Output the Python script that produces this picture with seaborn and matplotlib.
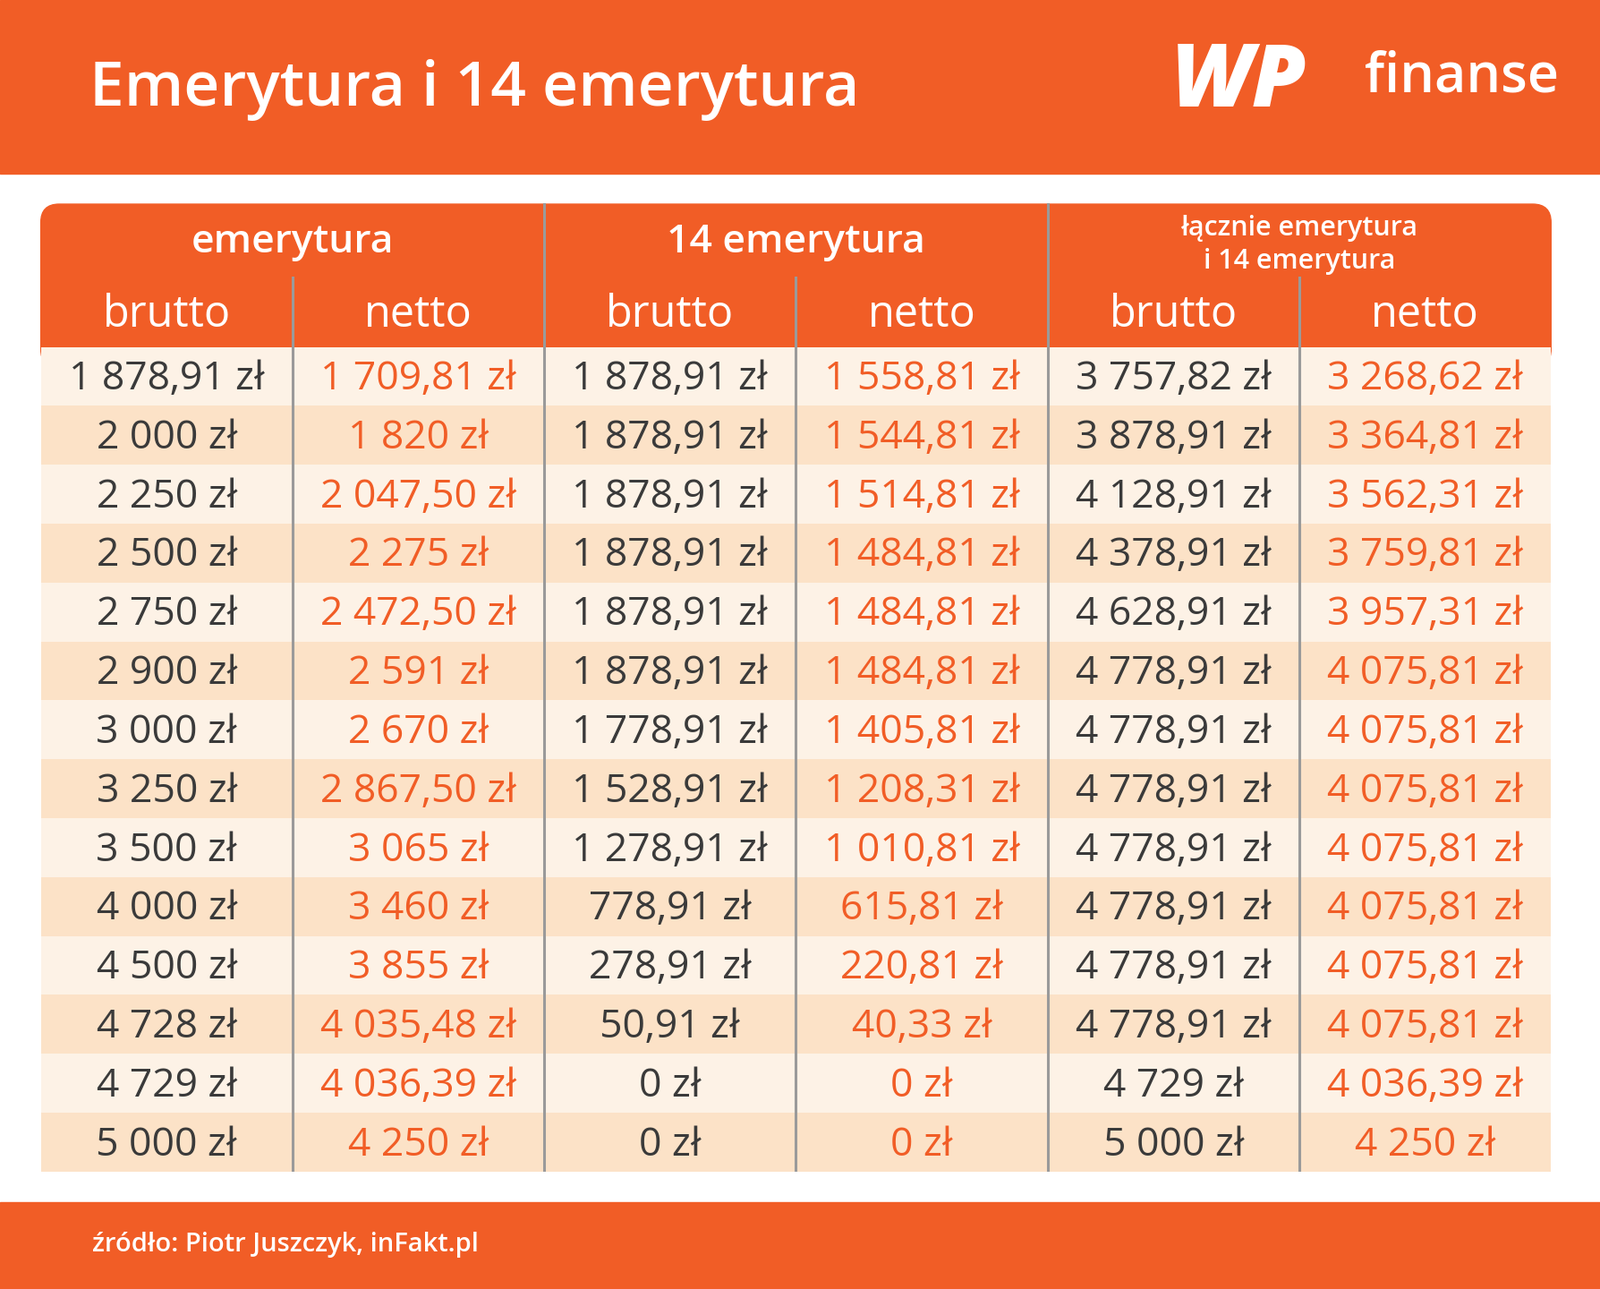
import numpy as np
import pandas as pd
import seaborn as sns
import matplotlib.pyplot as plt
from matplotlib.patches import FancyBboxPatch, Rectangle

ORANGE = "#F15D26"
DARK = "#3a3a3a"

title = "Emerytura i 14 emerytura"
source = "źródło: Piotr Juszczyk, inFakt.pl"
groups = ["emerytura", "14 emerytura", "łącznie emerytura\ni 14 emerytura"]
subcols = ["brutto", "netto"]

emer_brutto = ["1 878,91 zł", "2 000 zł", "2 250 zł", "2 500 zł", "2 750 zł", "2 900 zł", "3 000 zł",
               "3 250 zł", "3 500 zł", "4 000 zł", "4 500 zł", "4 728 zł", "4 729 zł", "5 000 zł"]
emer_netto = ["1 709,81 zł", "1 820 zł", "2 047,50 zł", "2 275 zł", "2 472,50 zł", "2 591 zł", "2 670 zł",
              "2 867,50 zł", "3 065 zł", "3 460 zł", "3 855 zł", "4 035,48 zł", "4 036,39 zł", "4 250 zł"]
e14_brutto = ["1 878,91 zł"] * 6 + ["1 778,91 zł", "1 528,91 zł", "1 278,91 zł", "778,91 zł",
                                    "278,91 zł", "50,91 zł", "0 zł", "0 zł"]
e14_netto = ["1 558,81 zł", "1 544,81 zł", "1 514,81 zł", "1 484,81 zł", "1 484,81 zł", "1 484,81 zł",
             "1 405,81 zł", "1 208,31 zł", "1 010,81 zł", "615,81 zł", "220,81 zł", "40,33 zł", "0 zł", "0 zł"]
sum_brutto = ["3 757,82 zł", "3 878,91 zł", "4 128,91 zł", "4 378,91 zł", "4 628,91 zł"] + ["4 778,91 zł"] * 7 + \
             ["4 729 zł", "5 000 zł"]
sum_netto = ["3 268,62 zł", "3 364,81 zł", "3 562,31 zł", "3 759,81 zł", "3 957,31 zł"] + ["4 075,81 zł"] * 7 + \
            ["4 036,39 zł", "4 250 zł"]

cols = [emer_brutto, emer_netto, e14_brutto, e14_netto, sum_brutto, sum_netto]
n_rows = len(emer_brutto)

W, H = 1568, 1263
fig = plt.figure(figsize=(17.88, 14.4), dpi=100)
bg = fig.add_axes([0, 0, 1, 1])
bg.set_xlim(0, W)
bg.set_ylim(H, 0)
bg.axis("off")
font = "Open Sans"

# top and bottom bars
bg.add_patch(Rectangle((0, 0), W, 170, color=ORANGE))
bg.add_patch(Rectangle((0, 1178), W, H - 1178, color=ORANGE))
bg.text(88, 88, title, color="white", fontsize=50, fontweight="semibold", fontfamily=font, va="center")
bg.text(1148, 82, "WP", color="white", fontsize=70, fontweight="heavy", fontfamily=font,
        va="center", style="italic")
bg.text(1528, 76, "finanse", color="white", fontsize=44, fontweight="semibold", fontfamily=font,
        va="center", ha="right")
bg.text(90, 1220, source, color="white", fontsize=21, fontweight="semibold", fontfamily=font, va="center")

# header
x0, x1, top, hbot, bot = 40, 1520, 200, 340, 1148
bg.add_patch(FancyBboxPatch((x0, top), x1 - x0, hbot - top + 20, boxstyle="round,pad=0,rounding_size=18",
                            color=ORANGE, zorder=1))
cw = (x1 - x0) / 6
for g, name in enumerate(groups):
    cx = x0 + cw * (2 * g + 1)
    if "\n" in name:
        bg.text(cx, 240, name, color="white", fontsize=22, fontweight="semibold", fontfamily=font,
                ha="center", va="center", linespacing=1.3)
    else:
        bg.text(cx, 237, name, color="white", fontsize=32, fontweight="semibold", fontfamily=font,
                ha="center", va="center")
for i in range(6):
    bg.text(x0 + cw * (i + 0.5), 309, subcols[i % 2], color="white", fontsize=35,
            fontfamily=font, ha="center", va="center")

# body via seaborn heatmap for alternating row shading
shade = pd.DataFrame(np.tile((np.arange(n_rows) % 2)[:, None], (1, 6)))
ax = fig.add_axes([x0 / W, 1 - bot / H, (x1 - x0) / W, (bot - hbot) / H])
sns.heatmap(shade, ax=ax, cmap=["#FDF2E6", "#FCE2C7"], cbar=False, linewidths=0)
ax.axis("off")
for j, col in enumerate(cols):
    for i, val in enumerate(col):
        ax.text(j + 0.5, i + 0.55, val, ha="center", va="center", fontsize=32, fontfamily=font,
                color=ORANGE if j % 2 else DARK)
for j in range(1, 6):
    ax.axvline(j, color="#9a9a9a", lw=2.2, zorder=5)

# header dividers
for i in range(1, 6):
    x = x0 + cw * i
    y_start = top if i % 2 == 0 else 272
    bg.plot([x, x], [y_start, hbot], color="#9a9a9a", lw=2.2, zorder=5)

fig.savefig("out.png", dpi=100)
